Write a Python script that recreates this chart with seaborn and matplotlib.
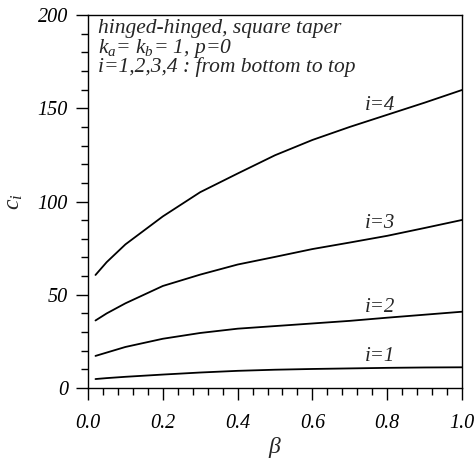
import matplotlib
matplotlib.use("Agg")
import matplotlib.pyplot as plt
import seaborn as sns
import pandas as pd
from matplotlib.ticker import MultipleLocator, FormatStrFormatter

beta = [0.02, 0.05, 0.1, 0.2, 0.3, 0.4, 0.5, 0.6, 0.7, 0.8, 0.9, 1.0]
c1 = [4.8, 5.3, 6.0, 7.2, 8.3, 9.2, 9.8, 10.2, 10.5, 10.8, 11.0, 11.1]
c2 = [17.2, 19.0, 22.0, 26.4, 29.5, 31.8, 33.2, 34.6, 36.0, 37.7, 39.3, 40.9]
c3 = [36.2, 40.0, 45.4, 54.7, 60.8, 66.2, 70.3, 74.5, 78.0, 81.6, 85.8, 90.1]
c4 = [60.6, 67.5, 77.0, 92.0, 105.0, 115.0, 124.8, 133.0, 140.0, 146.5, 153.0, 159.8]
series_labels = ["i=1", "i=2", "i=3", "i=4"]
label_pos_x = [0.78, 0.78, 0.78, 0.78]
label_pos_y = [14.3, 40.6, 85.8, 149.0]
note_lines = ["hinged-hinged, square taper",
              r"$k_a$= $k_b$= 1, p=0",
              "i=1,2,3,4 : from bottom to top"]
note_y = [0.952, 0.899, 0.846]

sns.set_style("white")
plt.rcParams["font.family"] = ["Liberation Serif", "DejaVu Serif"]
plt.rcParams["mathtext.fontset"] = "custom"
plt.rcParams["mathtext.it"] = "Liberation Serif:italic"
plt.rcParams["mathtext.rm"] = "Liberation Serif:italic"

rows = []
for lab, vals in zip(series_labels, [c1, c2, c3, c4]):
    for b, v in zip(beta, vals):
        rows.append({"beta": b, "c": v, "series": lab})
df = pd.DataFrame(rows)

fig = plt.figure(figsize=(4.77, 4.59), dpi=100)
ax = fig.add_axes([0.1845, 0.1547, 0.7841, 0.8126])
sns.lineplot(data=df, x="beta", y="c", units="series", estimator=None,
             color="black", linewidth=1.3, ax=ax, legend=False)

ax.set_xlim(0, 1.0)
ax.set_ylim(0, 200)
ax.xaxis.set_major_locator(MultipleLocator(0.2))
ax.xaxis.set_minor_locator(MultipleLocator(0.04))
ax.yaxis.set_major_locator(MultipleLocator(50))
ax.yaxis.set_minor_locator(MultipleLocator(10))
ax.xaxis.set_major_formatter(FormatStrFormatter("%.1f"))
ax.yaxis.set_major_formatter(FormatStrFormatter("%d"))
ax.tick_params(which="major", direction="out", length=8.5, width=1.0, colors="black",
               labelsize=14.5, bottom=True, left=True, top=False, right=False, pad=6)
ax.tick_params(axis="x", which="major", pad=10)
ax.tick_params(which="minor", direction="out", length=5, width=1.0, colors="black",
               bottom=True, left=True, top=False, right=False)
for lab in ax.get_xticklabels() + ax.get_yticklabels():
    lab.set_fontstyle("italic")
for s in ax.spines.values():
    s.set_visible(True)
    s.set_color("black")
    s.set_linewidth(1.0)

ax.set_xlabel(r"$\beta$", fontsize=17, labelpad=2)
ax.set_ylabel(r"$c_i$", fontsize=17, labelpad=9)

for txt, yy in zip(note_lines, note_y):
    ax.text(0.027, yy, txt, transform=ax.transAxes,
            fontsize=15.5, style="italic", va="baseline", ha="left")
for lab, lx, ly in zip(series_labels, label_pos_x, label_pos_y):
    ax.text(lx, ly, lab, fontsize=15, style="italic", ha="center", va="baseline")

fig.savefig("out.png", dpi=100)
